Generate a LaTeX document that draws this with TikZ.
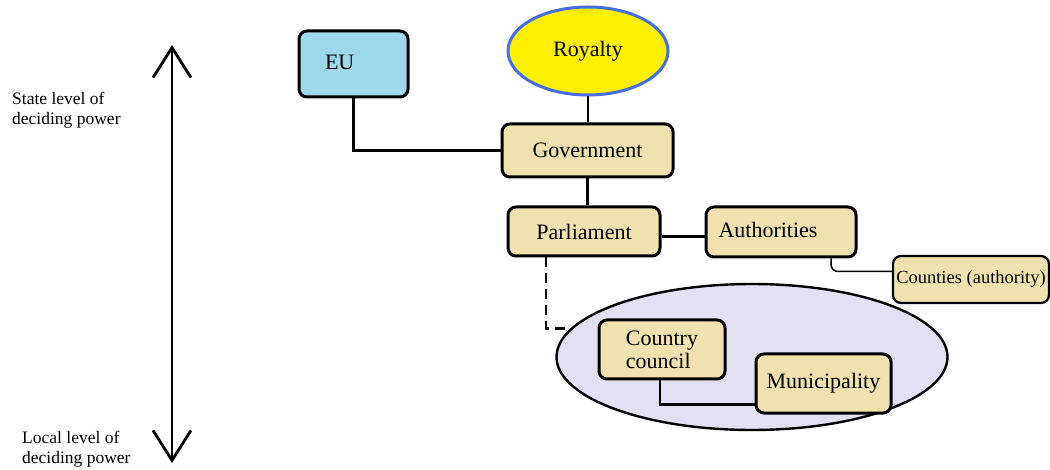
\documentclass[tikz,border=0pt]{standalone}
\usepackage{fontspec}
\setmainfont{Liberation Serif}
\usetikzlibrary{shapes.geometric,arrows.meta}
\definecolor{tanfill}{RGB}{240,226,174}
\definecolor{eufill}{RGB}{157,217,232}
\definecolor{royfill}{RGB}{255,240,0}
\definecolor{roydraw}{RGB}{70,110,230}
\definecolor{lavfill}{RGB}{228,224,244}
\newcommand{\mainsz}{\fontsize{22}{23}\selectfont}
\newcommand{\sidesz}{\fontsize{17.5}{20}\selectfont}
\newcommand{\ctysz}{\fontsize{18.5}{21}\selectfont}
\begin{document}
\begin{tikzpicture}[x=1pt,y=-1pt,
  box/.style={draw, line width=3pt, rounded corners=8pt, fill=tanfill, font=\mainsz, inner sep=0pt, align=center},
  conn/.style={line width=2.8pt},
  thinconn/.style={line width=1.5pt, rounded corners=7pt},
  dashconn/.style={line width=2.8pt, dash pattern=on 10pt off 6pt},
  sidetext/.style={font=\sidesz, align=left, inner sep=0pt, anchor=west},
  tipstyle/.style={line width=2.8pt, {Straight Barb[length=30pt,width=38pt]}-{Straight Barb[length=30pt,width=38pt]}}
]
\useasboundingbox (0,0) rectangle (1050,470);

% local-level ellipse (drawn first, behind boxes)
\node[ellipse, draw, line width=2.4pt, fill=lavfill, minimum width=391pt, minimum height=146pt, inner sep=0pt] (local) at (752,357) {};

% nodes
\node[box, fill=eufill, minimum height=66pt, text width=57pt, inner xsep=26pt, align=left] (eu) at (353.5,64) {\raisebox{3pt}{EU}};
\node[ellipse, draw=roydraw, line width=3pt, fill=royfill, minimum width=160pt, minimum height=88pt, inner sep=0pt, font=\mainsz] (roy) at (588,51) {Royalty};
\node[box, minimum width=171pt, minimum height=53pt] (gov) at (587.5,150.5) {\raisebox{-2pt}{Government}};
\node[box, minimum width=152pt, minimum height=49pt] (parl) at (584,231.5) {Parliament};
\node[box, minimum height=50pt, text width=125pt, inner xsep=12.5pt, align=left] (auth) at (781,232) {\raisebox{4pt}{Authorities}};
\node[box, line width=2.2pt, minimum width=156pt, minimum height=47pt, font=\ctysz] (cnt) at (971,279.5) {\raisebox{4pt}{Counties (authority)}};
\node[box, minimum width=126pt, minimum height=59pt, align=left] (cc) at (662,349.5) {Country\\council};
\node[box, minimum width=135pt, minimum height=59pt] (mun) at (823.5,383.5) {Municipality};

% connectors
\draw[conn] (roy.south) -- (roy.south |- gov.north);
\draw[conn] (eu.south) |- (gov.west);
\draw[conn] (gov.south) -- (gov.south |- parl.north);
\draw[conn] ([yshift=-5pt]parl.east) -- ([yshift=-5pt]parl.east -| auth.west);
\draw[thinconn] ([xshift=50pt]auth.south) |- ([yshift=8pt]cnt.west);
\draw[dashconn] ([xshift=-38pt]parl.south) |- (local.171);
\draw[conn] ([xshift=-2pt]cc.south) |- ([yshift=-21pt]mun.west);

% vertical double arrow and side texts
\coordinate (atop) at (172,45);
\coordinate (abot) at (172,463);
\draw[tipstyle] (atop) -- (abot);
\node[sidetext] (state) at (12,110) {State level of\\deciding power};
\node[sidetext] (localtxt) at (22,449) {Local level of\\deciding power};
\end{tikzpicture}
\end{document}
